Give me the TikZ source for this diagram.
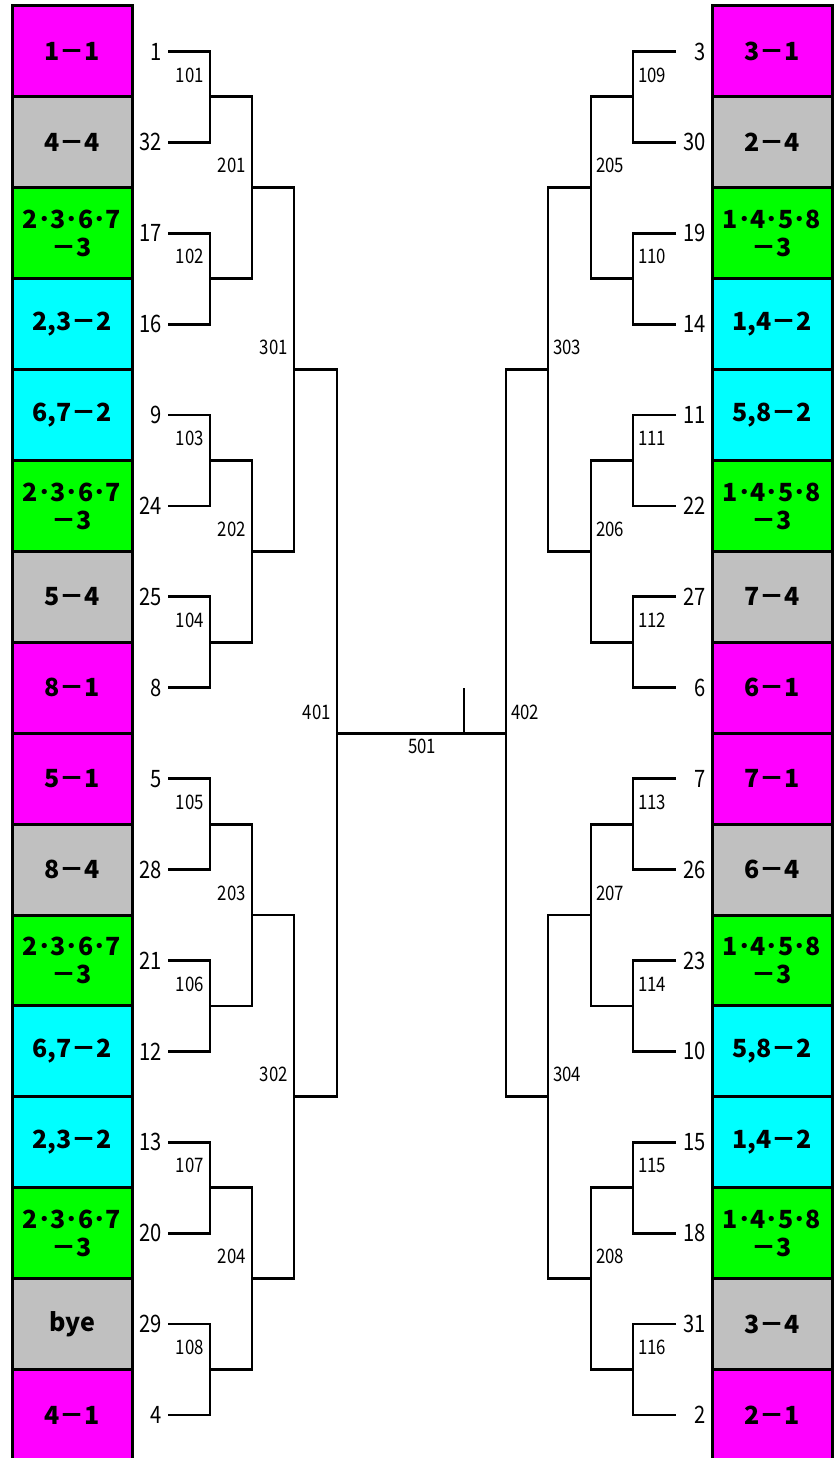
\documentclass[tikz,border=0pt]{standalone}
\usepackage{fontspec}
\newfontfamily\cjkf{Noto Sans CJK JP}
\newfontfamily\numf[FakeStretch=0.84]{Noto Sans CJK JP}
\definecolor{mag}{RGB}{255,0,255}
\definecolor{gry}{RGB}{192,192,192}
\definecolor{grn}{RGB}{0,255,0}
\definecolor{cyn}{RGB}{0,255,255}
\begin{document}
\begin{tikzpicture}[x=1pt,y=-1pt,
  box/.style={draw=black, line width=3pt, minimum width=120pt, minimum height=90.9pt, inner sep=0pt, align=center, font=\cjkf\bfseries\fontsize{25}{28}\selectfont},
  seed/.style={inner sep=0pt, font=\numf\fontsize{24}{24}\selectfont},
  mlab/.style={inner sep=0pt, font=\numf\fontsize{20}{20}\selectfont},
  br/.style={line width=2.8pt, line join=miter}]
\useasboundingbox (0,0) rectangle (840,1458);
\def\H{90.9}
% left boxes
\foreach \c/\t [count=\i] in {mag/{1－1}, gry/{4－4}, grn/{2･3･6･7\\－3}, cyn/{2,3－2}, cyn/{6,7－2}, grn/{2･3･6･7\\－3}, gry/{5－4}, mag/{8－1}, mag/{5－1}, gry/{8－4}, grn/{2･3･6･7\\－3}, cyn/{6,7－2}, cyn/{2,3－2}, grn/{2･3･6･7\\－3}, gry/{bye}, mag/{4－1}}
  \node[box, fill=\c] (bL\i) at (72,{6+\H*(\i-0.5)}) {\t};
% right boxes
\foreach \c/\t [count=\i] in {mag/{3－1}, gry/{2－4}, grn/{1･4･5･8\\－3}, cyn/{1,4－2}, cyn/{5,8－2}, grn/{1･4･5･8\\－3}, gry/{7－4}, mag/{6－1}, mag/{7－1}, gry/{6－4}, grn/{1･4･5･8\\－3}, cyn/{5,8－2}, cyn/{1,4－2}, grn/{1･4･5･8\\－3}, gry/{3－4}, mag/{2－1}}
  \node[box, fill=\c] (bR\i) at (772,{6+\H*(\i-0.5)}) {\t};
% seeds
\foreach \s [count=\i] in {1,32,17,16,9,24,25,8,5,28,21,12,13,20,29,4}{
  \node[seed, anchor=east] (sL\i) at (162,{6+\H*(\i-0.5)}) {\s};
  \coordinate (pL\i) at (168,{6+\H*(\i-0.5)});
}
\foreach \s [count=\i] in {3,30,19,14,11,22,27,6,7,26,23,10,15,18,31,2}{
  \node[seed, anchor=east] (sR\i) at (706,{6+\H*(\i-0.5)}) {\s};
  \coordinate (pR\i) at (676,{6+\H*(\i-0.5)});
}
% round 1
\foreach \k in {1,...,8}{
  \pgfmathtruncatemacro\a{2*\k-1}
  \pgfmathtruncatemacro\b{2*\k}
  \pgfmathtruncatemacro\mL{100+\k}
  \pgfmathtruncatemacro\mR{108+\k}
  \coordinate (m\mL) at (210,{6+\H*(2*\k-1)});
  \coordinate (m\mR) at (633,{6+\H*(2*\k-1)});
  \draw[br] (pL\a) -| (m\mL) |- (pL\b);
  \draw[br] (pR\a) -| (m\mR) |- (pR\b);
  \node[mlab, anchor=east] (l\mL) at (204,{6+\H*(2*\k-1)-22}) {\mL};
  \node[mlab, anchor=west] (l\mR) at (638,{6+\H*(2*\k-1)-22}) {\mR};
}
% round 2
\foreach \j in {1,...,4}{
  \pgfmathtruncatemacro\a{100+2*\j-1}
  \pgfmathtruncatemacro\b{100+2*\j}
  \pgfmathtruncatemacro\c{108+2*\j-1}
  \pgfmathtruncatemacro\d{108+2*\j}
  \pgfmathtruncatemacro\mL{200+\j}
  \pgfmathtruncatemacro\mR{204+\j}
  \coordinate (m\mL) at (252,{6+\H*(4*\j-2)});
  \coordinate (m\mR) at (591,{6+\H*(4*\j-2)});
  \draw[br] (m\a) -| (m\mL) |- (m\b);
  \draw[br] (m\c) -| (m\mR) |- (m\d);
  \node[mlab, anchor=east] (l\mL) at (246,{6+\H*(4*\j-2)-22}) {\mL};
  \node[mlab, anchor=west] (l\mR) at (596,{6+\H*(4*\j-2)-22}) {\mR};
}
% round 3
\foreach \q in {1,2}{
  \pgfmathtruncatemacro\a{200+2*\q-1}
  \pgfmathtruncatemacro\b{200+2*\q}
  \pgfmathtruncatemacro\c{204+2*\q-1}
  \pgfmathtruncatemacro\d{204+2*\q}
  \pgfmathtruncatemacro\mL{300+\q}
  \pgfmathtruncatemacro\mR{302+\q}
  \coordinate (m\mL) at (294,{6+\H*(8*\q-4)});
  \coordinate (m\mR) at (548,{6+\H*(8*\q-4)});
  \draw[br] (m\a) -| (m\mL) |- (m\b);
  \draw[br] (m\c) -| (m\mR) |- (m\d);
  \node[mlab, anchor=east] (l\mL) at (288,{6+\H*(8*\q-4)-22}) {\mL};
  \node[mlab, anchor=west] (l\mR) at (553,{6+\H*(8*\q-4)-22}) {\mR};
}
% round 4 and final
\coordinate (m401) at (337,{6+8*\H});
\coordinate (m402) at (506,{6+8*\H});
\draw[br] (m301) -| (m401) |- (m302);
\draw[br] (m303) -| (m402) |- (m304);
\draw[br] (m401) -- (m402);
\coordinate (fin) at (464,{6+8*\H});
\coordinate (fintop) at (464,688);
\draw[br] (fin) -- (fintop);
\node[mlab, anchor=east] (l401) at (331,{6+8*\H-21}) {401};
\node[mlab, anchor=west] (l402) at (511,{6+8*\H-21}) {402};
\node[mlab] (l501) at (422,746) {501};
\end{tikzpicture}
\end{document}
